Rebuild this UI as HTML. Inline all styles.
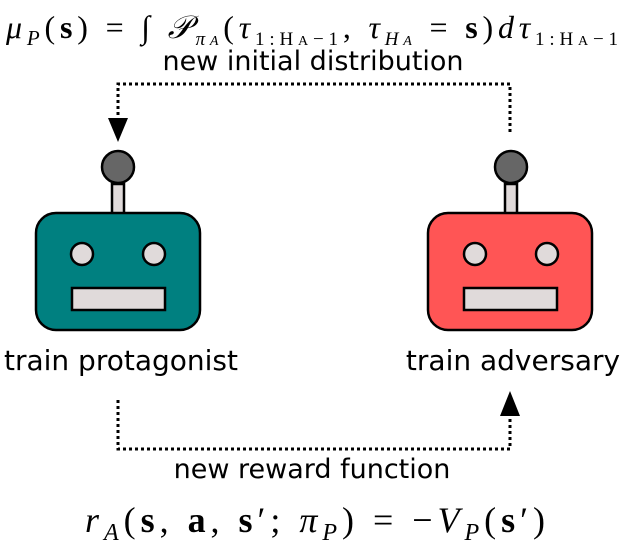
<!DOCTYPE html>
<html><head><style>
body{margin:0;background:#fff;}
svg{display:block;}
text{font-family:"DejaVu Sans","Liberation Sans",sans-serif;fill:#000;}
.m{font-family:"Liberation Serif",serif;font-style:italic;}
</style></head><body>
<svg width="624" height="542" viewBox="0 0 624 542" xmlns="http://www.w3.org/2000/svg">
<text x="6" y="38" class="m" font-size="32" textLength="612" lengthAdjust="spacing">μ<tspan font-size="21" dy="7">P</tspan><tspan dy="-7" font-style="normal">(<tspan font-weight="bold">s</tspan>) = ∫ </tspan>𝒫<tspan font-size="19" dy="7">π<tspan font-size="14">A</tspan></tspan><tspan dy="-7" font-style="normal">(</tspan>τ<tspan font-size="19" dy="7" font-style="normal">1:H<tspan font-size="14">A</tspan>−1</tspan><tspan dy="-7" font-style="normal">, </tspan>τ<tspan font-size="19" dy="7">H<tspan font-size="14">A</tspan></tspan><tspan dy="-7" font-style="normal"> = <tspan font-weight="bold">s</tspan>)</tspan>dτ<tspan font-size="19" dy="7" font-style="normal">1:H<tspan font-size="14">A</tspan>−1</tspan></text>
<text x="313" y="70" font-size="27" text-anchor="middle">new initial distribution</text>
<g fill="none" stroke="#000" stroke-width="3" stroke-dasharray="3,3">
<path d="M510,132 L510,84 L118,84 L118,120"/>
<path d="M118,400 L118,449 L510,449 L510,414"/>
</g>
<path d="M108,118 L128,118 L118,142 Z"/>
<path d="M500,416 L520,416 L510,391 Z"/>
<g stroke="#000" stroke-width="2.5">
<rect x="112" y="184" width="12" height="30" fill="#e0dada"/>
<circle cx="118" cy="167" r="16" fill="#666"/>
<rect x="36" y="213" width="164" height="117" rx="20" fill="#008080"/>
<circle cx="82" cy="254" r="11" fill="#e0dada"/>
<circle cx="154" cy="254" r="11" fill="#e0dada"/>
<rect x="72" y="288" width="93" height="22" fill="#e0dada"/>
<rect x="505" y="184" width="12" height="30" fill="#e0dada"/>
<circle cx="511" cy="167" r="16" fill="#666"/>
<rect x="428" y="213" width="164" height="117" rx="20" fill="#f55"/>
<circle cx="475" cy="254" r="11" fill="#e0dada"/>
<circle cx="547" cy="254" r="11" fill="#e0dada"/>
<rect x="464" y="288" width="93" height="22" fill="#e0dada"/>
</g>
<text x="121" y="370" font-size="28" text-anchor="middle">train protagonist</text>
<text x="513" y="370" font-size="28" text-anchor="middle">train adversary</text>
<text x="312" y="478" font-size="27" text-anchor="middle">new reward function</text>
<text x="85" y="532" class="m" font-size="36" textLength="460" lengthAdjust="spacing">r<tspan font-size="24" dy="8">A</tspan><tspan dy="-8" font-style="normal">(<tspan font-weight="bold">s</tspan>, <tspan font-weight="bold">a</tspan>, <tspan font-weight="bold">s</tspan>′; </tspan>π<tspan font-size="24" dy="8">P</tspan><tspan dy="-8" font-style="normal">) = −</tspan>V<tspan font-size="24" dy="8">P</tspan><tspan dy="-8" font-style="normal">(<tspan font-weight="bold">s</tspan>′)</tspan></text>
</svg>
</body></html>
